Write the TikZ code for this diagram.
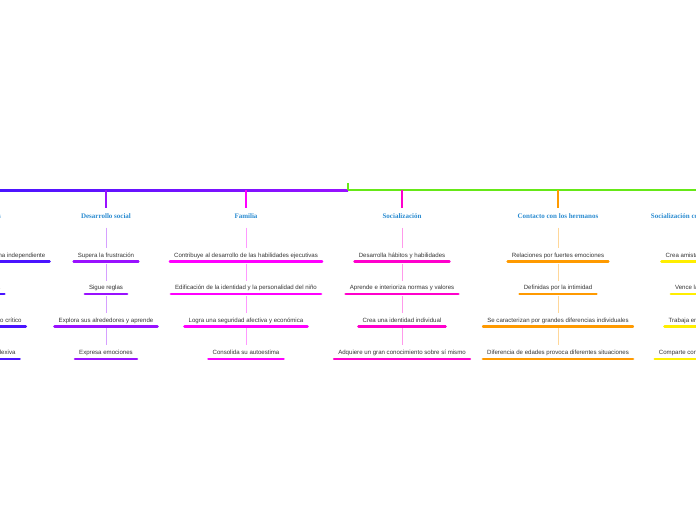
\documentclass[tikz,border=0pt]{standalone}
\usepackage{fontspec}
\setmainfont{Liberation Sans}
\newfontfamily\titlefamily{Liberation Serif}
\usetikzlibrary{positioning}

\definecolor{titleblue}{HTML}{2A8BD0}
\definecolor{leaftext}{HTML}{333333}
\definecolor{cogblue}{HTML}{4A14FF}
\definecolor{socpurple}{HTML}{9911FF}
\definecolor{fammag}{HTML}{FF00FF}
\definecolor{socpink}{HTML}{FF00CC}
\definecolor{herorange}{HTML}{FF9A00}
\definecolor{paryellow}{HTML}{FFEE00}
\definecolor{mapgreen}{HTML}{66E817}

\begin{document}
\begin{tikzpicture}[
    x=1pt, y=-1pt,
    node distance=21pt,
    titlebox/.style={
        font=\titlefamily\bfseries\fontsize{7}{8}\selectfont,
        text=titleblue,
        inner xsep=2pt, inner ysep=5pt,
        text height=5pt, text depth=2pt
    },
    leafbox/.style={
        font=\fontsize{6.1}{7}\selectfont,
        text=leaftext,
        inner xsep=4pt, inner ysep=2.5pt,
        text height=4.5pt, text depth=1.5pt,
        append after command={
            (\tikzlastnode.south west) edge[draw=#1, line width=2.6pt, line cap=round]
            (\tikzlastnode.south east)}
    },
    stem/.style={draw=#1, line width=1.2pt},
    twig/.style={draw=#1!40, line width=0.9pt, shorten <=2pt, shorten >=2pt}
]
\useasboundingbox (0,0) rectangle (696,520);
\clip (0,0) rectangle (696,520);

% main line
\coordinate (hub) at (348,190);
\coordinate (hubtop) at (348,183);
\coordinate (west) at (0,190);
\coordinate (east) at (696,190);
\shade[left color=cogblue, right color=socpurple] ([yshift=1pt]west) rectangle ([yshift=-1pt]hub);
\draw[mapgreen, line width=2pt] (hub) -- (east);
\draw[mapgreen, line width=1.5pt] (hub) -- (hubtop);

% branch 1 (cut off at the left)
\coordinate (b1) at (-33,190);
\node[titlebox] (t1) at (-33,217) {Habilidades cognitivas};
\node[leafbox=cogblue, below=24.5pt of t1] (l11) {Desarrolla la capacidad de actuar de forma independiente};
\node[leafbox=cogblue, below=of l11] (l12) {Desarrolla su autonomía};
\node[leafbox=cogblue, below=of l12] (l13) {Construye su propio pensamiento crítico};
\node[leafbox=cogblue, below=of l13] (l14) {Desarrolla una actitud más reflexiva};
\draw[stem=cogblue] (b1) -- (t1);
\draw[twig=cogblue] (t1) -- (l11);
\draw[twig=cogblue] (l11) -- (l12);
\draw[twig=cogblue] (l12) -- (l13);
\draw[twig=cogblue] (l13) -- (l14);

% branch 2: Desarrollo social
\coordinate (b2) at (106,190);
\node[titlebox] (t2) at (106,217) {Desarrollo social};
\node[leafbox=socpurple, below=24.5pt of t2] (l21) {Supera la frustración};
\node[leafbox=socpurple, below=of l21] (l22) {Sigue reglas};
\node[leafbox=socpurple, below=of l22] (l23) {Explora sus alrededores y aprende};
\node[leafbox=socpurple, below=of l23] (l24) {Expresa emociones};
\draw[stem=socpurple] (b2) -- (t2);
\draw[twig=socpurple] (t2) -- (l21);
\draw[twig=socpurple] (l21) -- (l22);
\draw[twig=socpurple] (l22) -- (l23);
\draw[twig=socpurple] (l23) -- (l24);

% branch 3: Familia
\coordinate (b3) at (246,190);
\node[titlebox] (t3) at (246,217) {Familia};
\node[leafbox=fammag, below=24.5pt of t3] (l31) {Contribuye al desarrollo de las habilidades ejecutivas};
\node[leafbox=fammag, below=of l31] (l32) {Edificación de la identidad y la personalidad del niño};
\node[leafbox=fammag, below=of l32] (l33) {Logra una seguridad afectiva y económica};
\node[leafbox=fammag, below=of l33] (l34) {Consolida su autoestima};
\draw[stem=fammag] (b3) -- (t3);
\draw[twig=fammag] (t3) -- (l31);
\draw[twig=fammag] (l31) -- (l32);
\draw[twig=fammag] (l32) -- (l33);
\draw[twig=fammag] (l33) -- (l34);

% branch 4: Socializacion
\coordinate (b4) at (402,190);
\node[titlebox] (t4) at (402,217) {Socialización};
\node[leafbox=socpink, below=24.5pt of t4] (l41) {Desarrolla hábitos y habilidades};
\node[leafbox=socpink, below=of l41] (l42) {Aprende e interioriza normas y valores};
\node[leafbox=socpink, below=of l42] (l43) {Crea una identidad individual};
\node[leafbox=socpink, below=of l43] (l44) {Adquiere un gran conocimiento sobre sí mismo};
\draw[stem=socpink] (b4) -- (t4);
\draw[twig=socpink] (t4) -- (l41);
\draw[twig=socpink] (l41) -- (l42);
\draw[twig=socpink] (l42) -- (l43);
\draw[twig=socpink] (l43) -- (l44);

% branch 5: Contacto con los hermanos
\coordinate (b5) at (558,190);
\node[titlebox] (t5) at (558,217) {Contacto con los hermanos};
\node[leafbox=herorange, below=24.5pt of t5] (l51) {Relaciones por fuertes emociones};
\node[leafbox=herorange, below=of l51] (l52) {Definidas por la intimidad};
\node[leafbox=herorange, below=of l52] (l53) {Se caracterizan por grandes diferencias individuales};
\node[leafbox=herorange, below=of l53] (l54) {Diferencia de edades provoca diferentes situaciones};
\draw[stem=herorange] (b5) -- (t5);
\draw[twig=herorange] (t5) -- (l51);
\draw[twig=herorange] (l51) -- (l52);
\draw[twig=herorange] (l52) -- (l53);
\draw[twig=herorange] (l53) -- (l54);

% branch 6 (cut off at the right)
\coordinate (b6) at (712,190);
\node[titlebox] (t6) at (712,217) {Socialización con los compañeros de aula};
\node[leafbox=paryellow, below=24.5pt of t6] (l61) {Crea amistades fuera de la familia};
\node[leafbox=paryellow, below=of l61] (l62) {Vence la timidez y el miedo};
\node[leafbox=paryellow, below=of l62] (l63) {Trabaja en equipo en la escuela};
\node[leafbox=paryellow, below=of l63] (l64) {Comparte con niños de su misma edad};
\draw[stem=paryellow] (b6) -- (t6);
\draw[twig=paryellow] (t6) -- (l61);
\draw[twig=paryellow] (l61) -- (l62);
\draw[twig=paryellow] (l62) -- (l63);
\draw[twig=paryellow] (l63) -- (l64);

\end{tikzpicture}
\end{document}
